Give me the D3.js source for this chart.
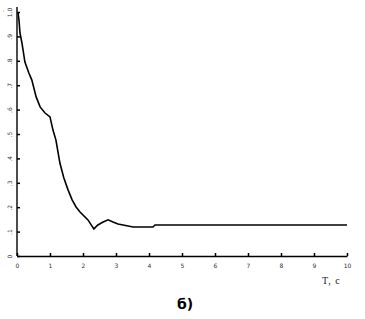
<!DOCTYPE html>
<html>
<head>
<meta charset="utf-8">
<script src="https://d3js.org/d3.v7.min.js"></script>
<style>
	body { margin: 0; background: #fff; }
	svg { display: block; }
	.tick text { font-family: "DejaVu Sans", sans-serif; font-size: 6px; fill: #333; }
</style>
</head>
<body>
<svg id="chart" width="365" height="319"></svg>
<script>
	// transient response
	var timeVals = [0.03, 0.06, 0.09, 0.15, 0.24, 0.36, 0.45, 0.58, 0.70, 0.85, 1.0, 1.09, 1.18, 1.30, 1.42, 1.55, 1.67, 1.79, 1.91, 2.15, 2.33, 2.45, 2.61, 2.76, 2.91, 3.06, 3.52, 4.12, 4.18, 10];
	var respVals = [1.0, 0.967, 0.914, 0.873, 0.795, 0.75, 0.721, 0.652, 0.611, 0.586, 0.570, 0.516, 0.475, 0.381, 0.320, 0.270, 0.230, 0.201, 0.180, 0.148, 0.111, 0.127, 0.139, 0.148, 0.139, 0.131, 0.119, 0.119, 0.127, 0.127];
	var xTicks = [0, 1, 2, 3, 4, 5, 6, 7, 8, 9, 10];
	var yTicks = [0, 0.1, 0.2, 0.3, 0.4, 0.5, 0.6, 0.7, 0.8, 0.9, 1.0];
	var yTickLabels = ["0", ".1", ".2", ".3", ".4", ".5", ".6", ".7", ".8", ".9", "1.0"];

	var svg = d3.select('#chart');
	var x = d3.scaleLinear().domain([0, 10]).range([17, 347]);
	var y = d3.scaleLinear().domain([0, 1]).range([256, 12]);

	// x axis, ticks pointing up into the plot
	var gx = svg.append('g').attr('transform', 'translate(0,256)')
		.call(d3.axisBottom(x).tickValues(xTicks).tickSizeInner(-3).tickSizeOuter(0).tickPadding(8));
	gx.select('.domain').attr('stroke', '#000').attr('stroke-width', 1.4);
	gx.selectAll('.tick line').attr('stroke', '#000').attr('stroke-width', 1.5);

	// y axis with rotated labels
	var gy = svg.append('g').attr('transform', 'translate(17,0)')
		.call(d3.axisLeft(y).tickValues(yTicks).tickSizeInner(-3).tickSizeOuter(0)
			.tickFormat(function(d, i) { return yTickLabels[i]; }));
	gy.select('.domain').attr('stroke', '#000').attr('stroke-width', 1.4)
		.attr('d', 'M0,' + y(1.02) + 'V' + y(0));
	gy.selectAll('.tick line').attr('stroke', '#000').attr('stroke-width', 1.5);
	gy.selectAll('.tick text')
		.attr('x', null).attr('dy', null)
		.attr('text-anchor', 'middle')
		.attr('transform', 'translate(-5,0) rotate(-90)');

	svg.append('text').attr('x', 3).attr('y', 14)
		.style('font-family', 'DejaVu Sans, sans-serif').style('font-size', '5px').style('fill', '#444')
		.text("'");

	var pts = timeVals.map(function(t, i) { return [t, respVals[i]]; });
	svg.append('path')
		.datum(pts)
		.attr('d', d3.line().x(function(d) { return x(d[0]); }).y(function(d) { return y(d[1]); }))
		.attr('fill', 'none')
		.attr('stroke', '#000')
		.attr('stroke-width', 1.6);

	svg.append('text').attr('x', 322).attr('y', 284)
		.style('font-family', 'Liberation Serif, serif').style('font-size', '10px').style('letter-spacing', '1px')
		.style('fill', '#222')
		.text('T, c');

	svg.append('text').attr('x', 185).attr('y', 309).attr('text-anchor', 'middle')
		.style('font-family', 'DejaVu Sans, sans-serif').style('font-size', '14px').style('font-weight', 'bold')
		.text('б)');
</script>
</body>
</html>
